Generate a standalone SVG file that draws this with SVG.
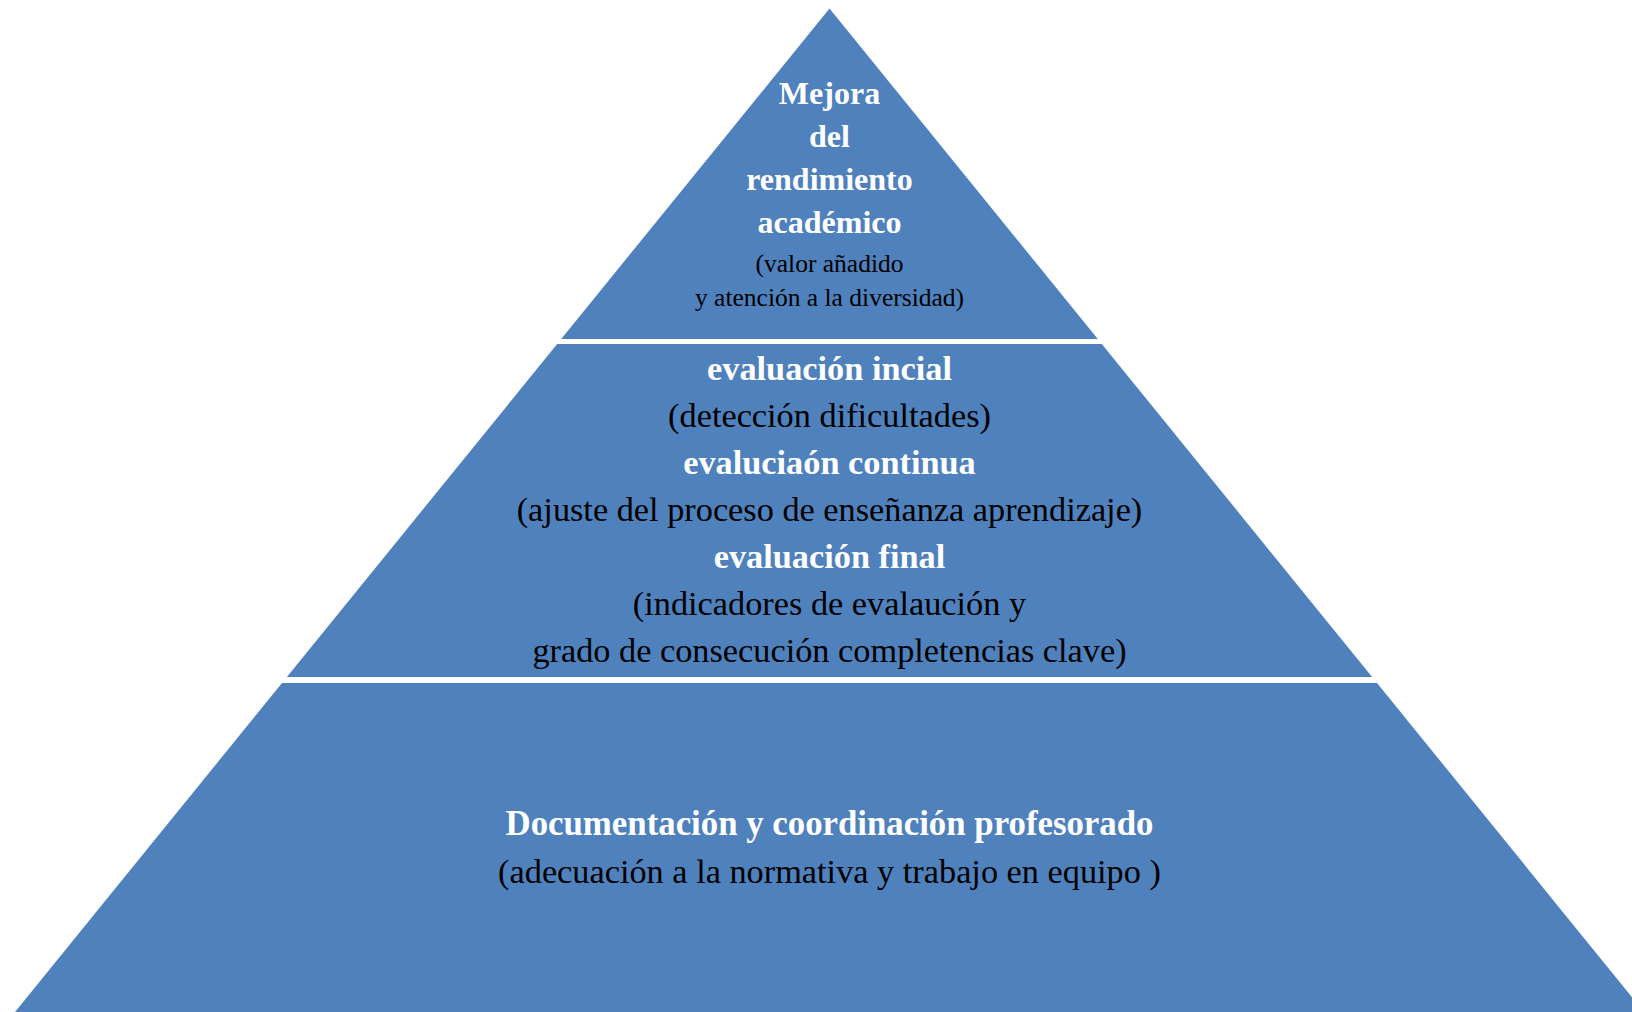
<svg xmlns="http://www.w3.org/2000/svg" width="1632" height="1012" viewBox="0 0 1632 1012">
<style>
.tier{fill:#4F81BD;}
text{font-family:"Liberation Serif","Times New Roman",serif;text-anchor:middle;}
.h{fill:#FFFFFF;font-weight:bold;font-size:34.3px;}
.s{fill:#000000;font-size:34.3px;}
.hb{fill:#FFFFFF;font-weight:bold;font-size:34.8px;}
.ht{fill:#FFFFFF;font-weight:bold;font-size:32px;}
.st{fill:#000000;font-size:25.5px;}
</style>
<rect width="1632" height="1012" fill="#FFFFFF"/>
<g id="tier-top">
<polygon class="tier" points="829.5,8.5 1097.8,339 561.2,339"/>
<text class="ht" x="829.5" y="104">Mejora</text>
<text class="ht" x="829.5" y="147">del</text>
<text class="ht" x="829.5" y="190">rendimiento</text>
<text class="ht" x="829.5" y="233">académico</text>
<text class="st" x="829.5" y="272">(valor añadido</text>
<text class="st" x="829.5" y="306">y atención a la diversidad)</text>
</g>
<g id="tier-middle">
<polygon class="tier" points="557.2,344 1101.8,344 1372.1,677 286.9,677"/>
<text class="h" x="829.5" y="380">evaluación incial</text>
<text class="s" x="829.5" y="427">(detección dificultades)</text>
<text class="h" x="829.5" y="474">evaluciaón continua</text>
<text class="s" x="829.5" y="521">(ajuste del proceso de enseñanza aprendizaje)</text>
<text class="h" x="829.5" y="567.5">evaluación final</text>
<text class="s" x="829.5" y="614.5">(indicadores de evalaución y</text>
<text class="s" x="829.5" y="661.5">grado de consecución completencias clave)</text>
</g>
<g id="tier-bottom">
<polygon class="tier" points="282,683 1377,683 1644,1012 15,1012"/>
<text class="hb" x="829.5" y="835">Documentación y coordinación profesorado</text>
<text class="s" x="829.5" y="883">(adecuación a la normativa y trabajo en equipo )</text>
</g>
<g id="connectors"></g>
</svg>
